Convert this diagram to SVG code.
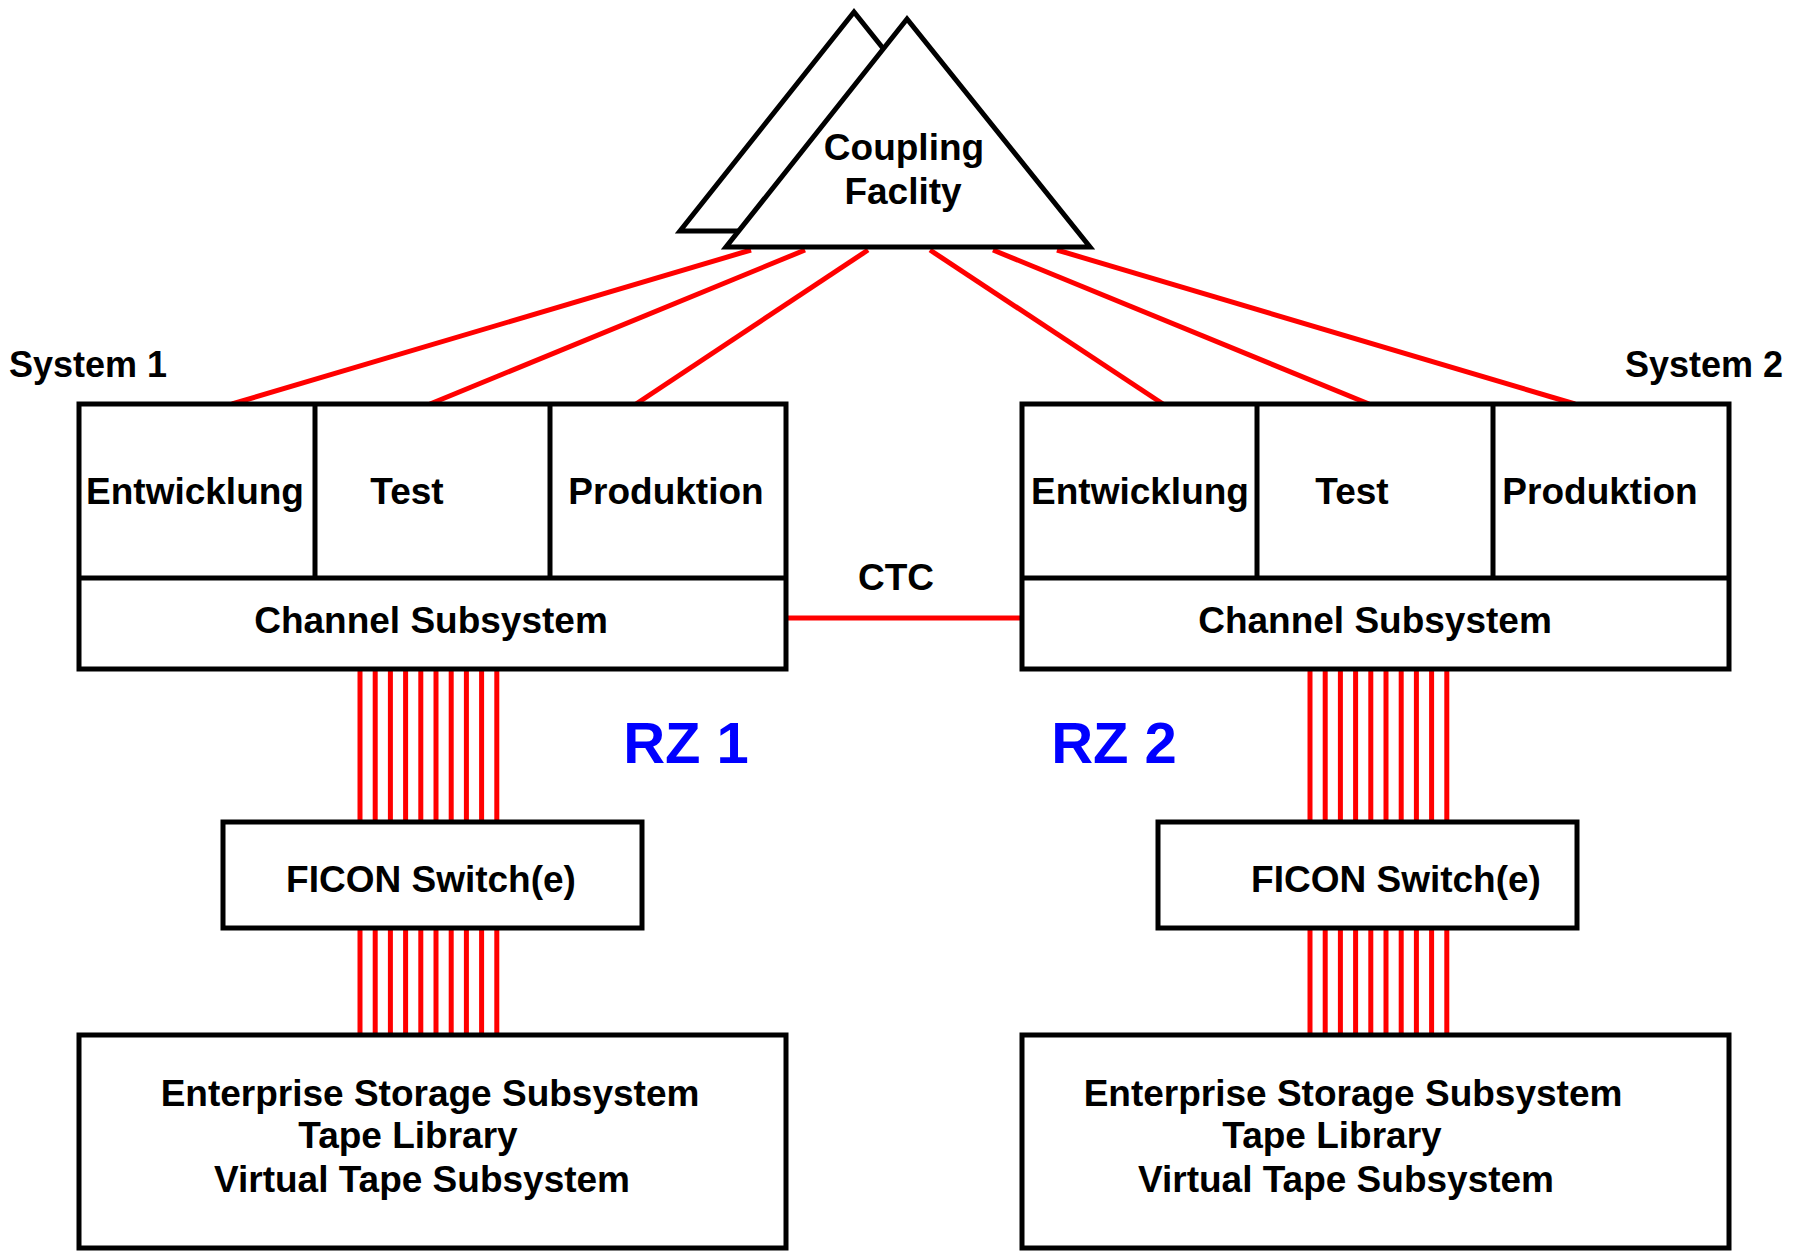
<svg xmlns="http://www.w3.org/2000/svg" width="1798" height="1256" viewBox="0 0 1798 1256">
<style>
.box{fill:#fff;stroke:#000;stroke-width:5}
.div{stroke:#000;stroke-width:5;fill:none}
.red{stroke:#ff0000;stroke-width:5;fill:none}
.t{font-family:"Liberation Sans",Arial,sans-serif;font-weight:bold;font-size:37px;fill:#000;text-anchor:middle}
.ts{font-family:"Liberation Sans",Arial,sans-serif;font-weight:bold;font-size:36px;fill:#000}
.rz{font-family:"Liberation Sans",Arial,sans-serif;font-weight:bold;font-size:58px;fill:#0000ff;text-anchor:middle}
</style>
<rect width="1798" height="1256" fill="#fff"/>
<g id="connectors">
  <line class="red" x1="751" y1="250" x2="232" y2="404"/>
  <line class="red" x1="805" y1="250" x2="430" y2="404"/>
  <line class="red" x1="868" y1="250" x2="636" y2="404"/>
  <line class="red" x1="930" y1="250" x2="1163" y2="404"/>
  <line class="red" x1="993" y1="250" x2="1369" y2="404"/>
  <line class="red" x1="1057" y1="250" x2="1575" y2="404"/>
  <line class="red" x1="786" y1="618" x2="1022" y2="618"/>
  <g id="fibers-left-upper">
    <path class="red" d="M360 670V822M375.2 670V822M390.4 670V822M405.6 670V822M420.8 670V822M436 670V822M451.2 670V822M466.4 670V822M481.6 670V822M496.8 670V822"/>
  </g>
  <g id="fibers-left-lower">
    <path class="red" d="M360 928V1035M375.2 928V1035M390.4 928V1035M405.6 928V1035M420.8 928V1035M436 928V1035M451.2 928V1035M466.4 928V1035M481.6 928V1035M496.8 928V1035"/>
  </g>
  <g id="fibers-right-upper">
    <path class="red" d="M1310 670V822M1325.2 670V822M1340.4 670V822M1355.6 670V822M1370.8 670V822M1386 670V822M1401.2 670V822M1416.4 670V822M1431.6 670V822M1446.8 670V822"/>
  </g>
  <g id="fibers-right-lower">
    <path class="red" d="M1310 928V1035M1325.2 928V1035M1340.4 928V1035M1355.6 928V1035M1370.8 928V1035M1386 928V1035M1401.2 928V1035M1416.4 928V1035M1431.6 928V1035M1446.8 928V1035"/>
  </g>
  <text class="t" x="896" y="590">CTC</text>
</g>
<g id="coupling-facility">
  <polygon class="box" points="854,12 680,231 1029,231"/>
  <polygon class="box" points="907,19 726,247 1090,247"/>
  <text class="t" x="904" y="160">Coupling</text>
  <text class="t" x="903" y="204">Faclity</text>
</g>
<g id="system1">
  <text class="ts" x="9" y="377">System 1</text>
  <rect class="box" x="79" y="404" width="707" height="265"/>
  <path class="div" d="M79 578H786M315 404V578M550 404V578"/>
  <text class="t" x="195" y="504">Entwicklung</text>
  <text class="t" x="407" y="504">Test</text>
  <text class="t" x="666" y="504">Produktion</text>
  <text class="t" x="431" y="633">Channel Subsystem</text>
</g>
<g id="system2">
  <text class="ts" x="1625" y="377">System 2</text>
  <rect class="box" x="1022" y="404" width="707" height="265"/>
  <path class="div" d="M1022 578H1729M1257 404V578M1493 404V578"/>
  <text class="t" x="1140" y="504">Entwicklung</text>
  <text class="t" x="1352" y="504">Test</text>
  <text class="t" x="1600" y="504">Produktion</text>
  <text class="t" x="1375" y="633">Channel Subsystem</text>
</g>
<g id="rz1"><text class="rz" x="686" y="763">RZ 1</text></g>
<g id="rz2"><text class="rz" x="1114" y="763">RZ 2</text></g>
<g id="ficon1">
  <rect class="box" x="223" y="822" width="419" height="106"/>
  <text class="t" x="431" y="892">FICON Switch(e)</text>
</g>
<g id="ficon2">
  <rect class="box" x="1158" y="822" width="419" height="106"/>
  <text class="t" x="1396" y="892">FICON Switch(e)</text>
</g>
<g id="storage1">
  <rect class="box" x="79" y="1035" width="707" height="213"/>
  <text class="t" x="430" y="1106">Enterprise Storage Subsystem</text>
  <text class="t" x="408" y="1148">Tape Library</text>
  <text class="t" x="422" y="1192">Virtual Tape Subsystem</text>
</g>
<g id="storage2">
  <rect class="box" x="1022" y="1035" width="707" height="213"/>
  <text class="t" x="1353" y="1106">Enterprise Storage Subsystem</text>
  <text class="t" x="1332" y="1148">Tape Library</text>
  <text class="t" x="1346" y="1192">Virtual Tape Subsystem</text>
</g>
</svg>
